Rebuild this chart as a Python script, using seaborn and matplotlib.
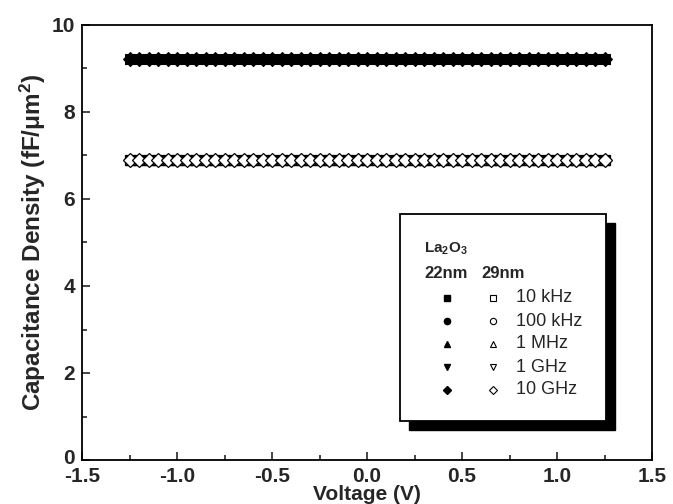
import numpy as np
import pandas as pd
import matplotlib
matplotlib.use("Agg")
import matplotlib.pyplot as plt
import matplotlib.transforms as mtransforms
from matplotlib.patches import Rectangle
import seaborn as sns

# Bias sweep (V) and measured capacitance density (fF/um^2) per frequency
voltage = np.round(np.arange(-1.25, 1.2501, 0.05), 2)
frequencies = ["10 kHz", "100 kHz", "1 MHz", "1 GHz", "10 GHz"]
markers = ["s", "o", "^", "v", "D"]
cap_22nm = [9.22, 9.22, 9.21, 9.18, 9.21]   # 22 nm La2O3, flat over bias
cap_29nm = [6.90, 6.90, 6.89, 6.88, 6.90]   # 29 nm La2O3, flat over bias

rows = []
for f, c22, c29 in zip(frequencies, cap_22nm, cap_29nm):
    for v in voltage:
        rows.append({"V": v, "C": c22, "freq": f, "t": "22nm"})
        rows.append({"V": v, "C": c29, "freq": f, "t": "29nm"})
df = pd.DataFrame(rows)

sns.set_theme(style="ticks")
plt.rcParams["font.family"] = ["Liberation Sans", "DejaVu Sans"]
plt.rcParams["mathtext.fontset"] = "custom"
plt.rcParams["mathtext.rm"] = "Liberation Sans:bold"
plt.rcParams["mathtext.it"] = "Liberation Sans:bold"
plt.rcParams["mathtext.bf"] = "Liberation Sans:bold"

W, H = 673, 504
fig = plt.figure(figsize=(W / 100, H / 100), dpi=100)
L, R, T, B = 82, 652, 25, 460
ax = fig.add_axes([L / W, 1 - B / H, (R - L) / W, (B - T) / H])

for f, m in zip(frequencies, markers):
    sub = df[(df.freq == f) & (df.t == "29nm")]
    sns.lineplot(data=sub, x="V", y="C", ax=ax, linestyle="", marker=m,
                 markersize=7, markerfacecolor="white", markeredgecolor="black",
                 markeredgewidth=0.9, color="black")
for f, m in zip(frequencies, markers):
    sub = df[(df.freq == f) & (df.t == "22nm")]
    sns.lineplot(data=sub, x="V", y="C", ax=ax, linestyle="", marker=m,
                 markersize=7, markerfacecolor="black", markeredgecolor="black",
                 color="black")

ax.set_xlim(-1.5, 1.5)
ax.set_ylim(0, 10)
ax.set_xticks(np.arange(-1.5, 1.51, 0.5))
ax.set_xticks(np.arange(-1.25, 1.5, 0.5), minor=True)
ax.set_yticks([0, 2, 4, 6, 8, 10])
ax.set_yticks([1, 3, 5, 7, 9], minor=True)
ax.set_xticklabels([f"{t:.1f}" for t in np.arange(-1.5, 1.51, 0.5)])
ax.tick_params(which="both", direction="in", width=1.2, labelsize=15)
ax.tick_params(axis="x", pad=5)
ax.tick_params(axis="y", pad=5)
ax.tick_params(which="major", length=6)
ax.tick_params(which="minor", length=3.5)
for lab in ax.get_xticklabels() + ax.get_yticklabels():
    lab.set_fontweight("bold")
# lift the "0" on the y axis a little so it clears the "-1.5" below it
zero_lab = ax.get_yticklabels()[0]
zero_lab.set_transform(zero_lab.get_transform()
                       + mtransforms.ScaledTranslation(0, 4 / 100, fig.dpi_scale_trans))
for s in ax.spines.values():
    s.set_linewidth(1.3)
    s.set_color("black")
ax.set_xlabel("Voltage (V)", fontsize=15, fontweight="bold", labelpad=-1)
ax.set_ylabel("Capacitance Density (fF/μm$^2$)", fontsize=17.5, fontweight="bold", labelpad=3)


def fx(px):
    return px / W


def fy(py):
    return 1 - py / H


# Boxed key with a solid drop shadow
bx0, bx1, by0, by1 = 400, 606, 214, 421
sh = 9
fig.patches.append(Rectangle((fx(bx0 + sh), fy(by1 + sh)), (bx1 - bx0) / W, (by1 - by0) / H,
                             transform=fig.transFigure, facecolor="black", edgecolor="black", zorder=5))
fig.patches.append(Rectangle((fx(bx0), fy(by1)), (bx1 - bx0) / W, (by1 - by0) / H,
                             transform=fig.transFigure, facecolor="white", edgecolor="black",
                             linewidth=1.3, zorder=6))
fig.text(fx(424), fy(249), "La$_2$O$_3$", fontsize=11, fontweight="bold", va="center", zorder=7)
fig.text(fx(424), fy(274), "22nm", fontsize=12, fontweight="bold", va="center", zorder=7)
fig.text(fx(481), fy(274), "29nm", fontsize=12, fontweight="bold", va="center", zorder=7)
row_y = [298, 321, 344, 367, 390]
for f, m, yy in zip(frequencies, markers, row_y):
    fig.lines.append(plt.Line2D([fx(447)], [fy(yy)], transform=fig.transFigure, marker=m,
                                markersize=4.5, color="black", markerfacecolor="black",
                                linestyle="", zorder=7))
    fig.lines.append(plt.Line2D([fx(493)], [fy(yy)], transform=fig.transFigure, marker=m,
                                markersize=4.5, color="black", markerfacecolor="white",
                                markeredgewidth=0.8, linestyle="", zorder=7))
    fig.text(fx(516), fy(yy), f, fontsize=13, va="center", zorder=7)

fig.savefig("out.png", dpi=100)
